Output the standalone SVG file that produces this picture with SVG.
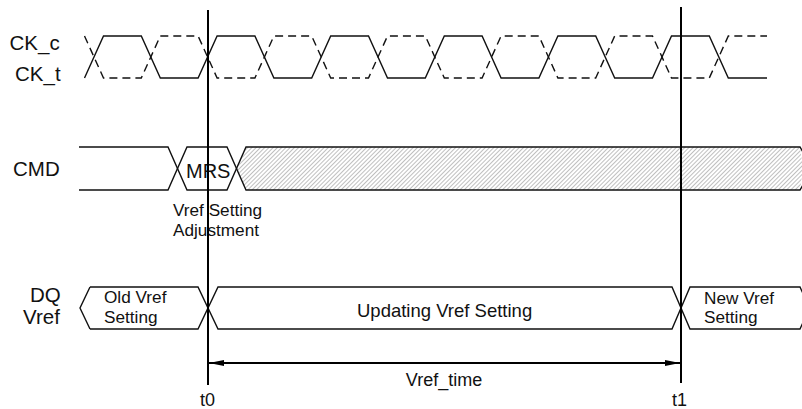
<svg xmlns="http://www.w3.org/2000/svg" width="802" height="409" viewBox="0 0 802 409">
<defs>
<style>
text{font-family:"Liberation Sans",Arial,sans-serif;fill:#111}
.lbl{font-size:20.5px}
.txt{font-size:18px}
.two{font-size:17.2px}
.sig{fill:none;stroke:#111;stroke-width:1.4;stroke-linejoin:miter}
.dash{fill:none;stroke:#111;stroke-width:1.4;stroke-dasharray:8 5}
.vline{stroke:#000;stroke-width:2}
</style>
<pattern id="hatch" width="3" height="3" patternUnits="userSpaceOnUse" patternTransform="rotate(45)">
<rect width="3" height="3" fill="#fff"/>
<line x1="0" y1="0" x2="0" y2="3" stroke="#8a8a8a" stroke-width="1.1"/>
</pattern>
<marker id="ah" markerWidth="15" markerHeight="6" refX="15" refY="3" orient="auto-start-reverse" markerUnits="userSpaceOnUse">
<path d="M0,0 L15,3 L0,6 Z" fill="#000"/>
</marker>
</defs>
<rect width="802" height="409" fill="#fff"/>

<g id="clock">
<text class="lbl" x="9.5" y="50">CK_c</text>
<text class="lbl" x="15" y="81">CK_t</text>
<path class="sig" d="M84.5,78 L103.5,36 H141.3 L160.3,78 H198.1 L217.1,36 H254.9 L273.9,78 H311.7 L330.7,36 H368.5 L387.5,78 H425.3 L444.3,36 H482.1 L501.1,78 H538.9 L557.9,36 H595.7 L614.7,78 H652.5 L671.5,36 H709.3 L728.3,78 H767"/>
<path class="dash" d="M84.5,36 L103.5,78 H141.3 L160.3,36 H198.1 L217.1,78 H254.9 L273.9,36 H311.7 L330.7,78 H368.5 L387.5,36 H425.3 L444.3,78 H482.1 L501.1,36 H538.9 L557.9,78 H595.7 L614.7,36 H652.5 L671.5,78 H709.3 L728.3,36 H767"/>
</g>

<g id="cmd">
<text class="lbl" x="13" y="176">CMD</text>
<polygon points="237,168.5 246,147 800,147 803,168.5 800,190 246,190" fill="url(#hatch)" stroke="none"/>
<path class="sig" d="M79,147 H168 L187,190 H227 L246,147 H800 L803,152"/>
<path class="sig" d="M79,190 H168 L187,147 H227 L246,190 H800 L803,185"/>
<text x="186" y="178" style="font-size:20px">MRS</text>
<text class="two" x="173" y="216">Vref Setting</text>
<text class="two" x="173" y="235.5">Adjustment</text>
</g>

<g id="dq">
<text class="lbl" x="30" y="302">DQ</text>
<text class="lbl" x="23" y="324">Vref</text>
<path class="sig" d="M90,287 L80,308 L90,329"/>
<path class="sig" d="M90,287 H198 L218,329 H672 L690,287 H800 L806,300"/>
<path class="sig" d="M90,329 H198 L218,287 H672 L690,329 H800 L806,316"/>
<text class="two" x="104" y="303">Old Vref</text>
<text class="two" x="104" y="322.5">Setting</text>
<text x="357" y="316.5" style="font-size:18.5px">Updating Vref Setting</text>
<text class="two" x="704" y="303.5">New Vref</text>
<text class="two" x="704" y="323">Setting</text>
</g>

<g id="markers">
<line class="vline" x1="208" y1="10" x2="208" y2="385"/>
<line class="vline" x1="681" y1="7" x2="681" y2="383"/>
<text class="txt" x="200" y="406">t0</text>
<text class="txt" x="672" y="406">t1</text>
</g>

<g id="connectors">
<line x1="209" y1="363" x2="680" y2="363" stroke="#000" stroke-width="2" marker-start="url(#ah)" marker-end="url(#ah)"/>
<text class="txt" x="444" y="386" text-anchor="middle">Vref_time</text>
</g>
</svg>
